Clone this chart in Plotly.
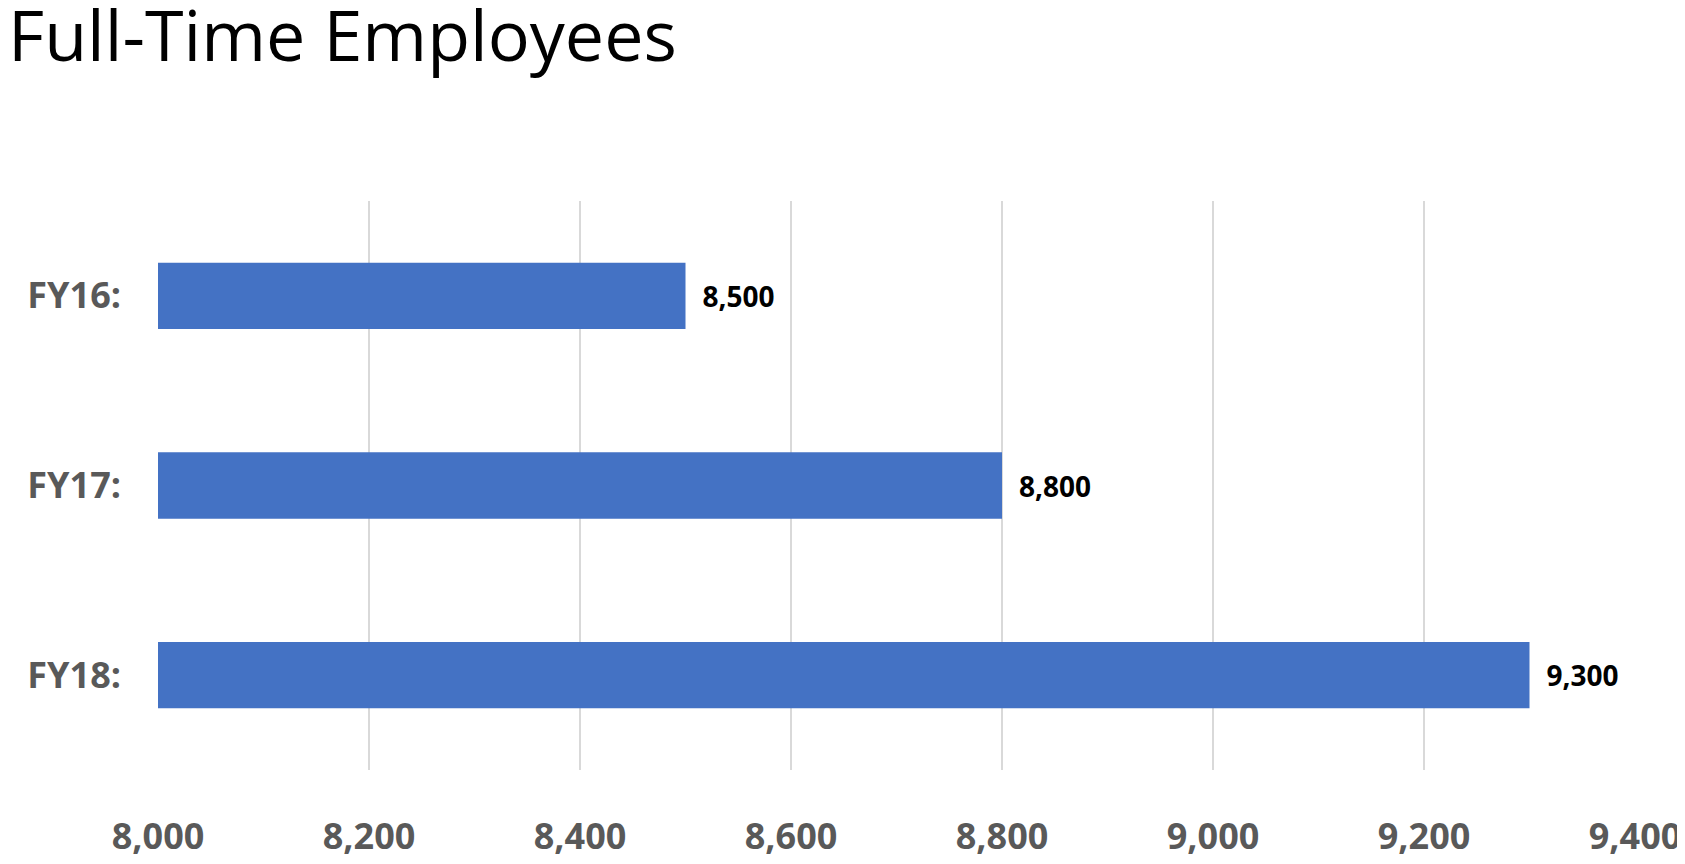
import plotly.graph_objects as go

years = ["FY16:", "FY17:", "FY18:"]
employees = [8500, 8800, 9300]
x_ticks = [8000, 8200, 8400, 8600, 8800, 9000, 9200, 9400]

fig = go.Figure(
    go.Bar(
        x=[v - 8000 for v in employees],
        base=8000,
        y=years,
        orientation="h",
        marker=dict(color="#4472C4", line=dict(width=0)),
        text=[f"\u2002{v:,}" for v in employees],
        textposition="outside",
        textfont=dict(family="Open Sans", size=28, color="#000000", weight="bold"),
        cliponaxis=False,
        width=0.35,
    )
)
fig.update_layout(
    width=1685,
    height=864,
    paper_bgcolor="white",
    plot_bgcolor="white",
    showlegend=False,
    margin=dict(l=150, r=57, t=193, b=90),
    title=dict(
        text="Full-Time Employees",
        x=0.0,
        xanchor="left",
        y=0.995,
        yanchor="top",
        font=dict(family="Open Sans", size=70, color="#000000"),
    ),
    xaxis=dict(
        range=[8000, 9400],
        tickvals=x_ticks,
        ticktext=[f"{v:,}" for v in x_ticks],
        showgrid=True,
        gridcolor="#D9D9D9",
        gridwidth=1.5,
        zeroline=False,
        tickfont=dict(family="Open Sans", size=36, color="#595959", weight="bold"),
        ticklabelstandoff=42,
    ),
    yaxis=dict(
        autorange="reversed",
        tickfont=dict(family="Open Sans", size=36, color="#595959", weight="bold"),
        ticklabelstandoff=36,
        showgrid=False,
    ),
    bargap=0.65,
)
fig.write_html("out.html")
